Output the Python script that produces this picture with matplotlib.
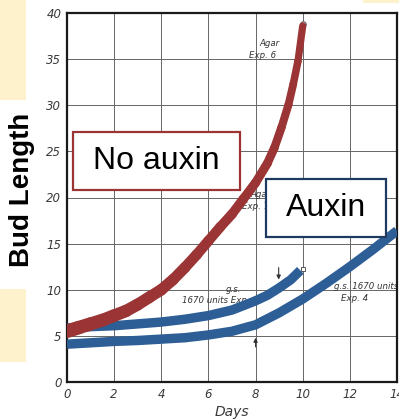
import numpy as np
import matplotlib
matplotlib.use("Agg")
import matplotlib.pyplot as plt
from matplotlib.collections import LineCollection
from matplotlib.patches import Rectangle

# Bud length (mm) against days
no_auxin_days = [0, 0.5, 1, 1.5, 2, 2.5, 3, 3.5, 4, 4.5, 5, 5.5, 6, 6.5, 7, 7.5,
                 8, 8.5, 8.8, 9.1, 9.4, 9.6, 9.8, 10.0]
no_auxin_len = [5.5, 5.9, 6.3, 6.7, 7.2, 7.7, 8.4, 9.2, 10.0, 11.1, 12.4, 13.8,
                15.3, 16.8, 18.2, 19.9, 21.6, 23.7, 25.4, 27.6, 30.1, 32.3, 34.8, 38.6]

auxin5_days = [0, 1, 2, 3, 4, 5, 6, 7, 8, 8.5, 9, 9.5, 9.9]
auxin5_len = [5.85, 6.0, 6.1, 6.3, 6.5, 6.8, 7.2, 7.8, 8.8, 9.4, 10.2, 11.1, 12.1]

auxin4_days = [0, 1, 2, 3, 4, 5, 6, 7, 8, 9, 10, 11, 12, 13, 14]
auxin4_len = [4.1, 4.25, 4.4, 4.5, 4.65, 4.8, 5.1, 5.5, 6.2, 7.5, 9.0, 10.7, 12.5, 14.4, 16.4]

x_ticks = [0, 2, 4, 6, 8, 10, 12, 14]
y_ticks = [0, 5, 10, 15, 20, 25, 30, 35, 40]

RED = "#9B3434"
BLUE = "#2E5E96"
NAVY = "#1F3A5F"
CREAM = "#FEF2CC"

W, H = 399, 420
fig = plt.figure(figsize=(W / 100, H / 100), dpi=100)

# cream background patches along the edges
for (x0, y0, w, h) in [(0, 0, 26, 100), (0, 289, 26, 73), (363, 0, 36, 3)]:
    fig.add_artist(Rectangle((x0 / W, 1 - (y0 + h) / H), w / W, h / H,
                             transform=fig.transFigure, facecolor=CREAM,
                             edgecolor="none", zorder=0))

ax = fig.add_axes([67 / W, (H - 382) / H, (397 - 67) / W, (382 - 13) / H])
ax.set_xlim(0, 14)
ax.set_ylim(0, 40)
ax.set_xticks(x_ticks)
ax.set_yticks(y_ticks)
ax.tick_params(length=0, pad=4, labelsize=8.5, labelcolor="#3a3a3a")
for lab in ax.get_xticklabels() + ax.get_yticklabels():
    lab.set_fontstyle("italic")
ax.grid(True, color="#666666", linewidth=0.7)
ax.set_axisbelow(True)
for sp in ax.spines.values():
    sp.set_color("#1a1a1a")
    sp.set_linewidth(1.6)
ax.set_xlabel("Days", fontstyle="italic", fontsize=10, color="#3a3a3a", labelpad=3)

# original handwritten annotations
note = dict(fontsize=6.2, fontstyle="italic", color="#333333", zorder=2,
            ha="center", va="center")
ax.text(8.6, 36.7, "Agar", **note)
ax.text(8.3, 35.4, "Exp. 6", **note)
ax.text(8.2, 20.3, "Agar", **note)
ax.text(8.0, 19.0, "Exp. 7", **note)
ax.text(7.06, 10.0, "g.s.", **note)
ax.text(6.5, 8.8, "1670 units Exp. 5", **note)
ax.text(12.7, 10.4, "g.s. 1670 units", **note)
ax.text(12.2, 9.1, "Exp. 4", **note)
ax.annotate("", xy=(8.98, 10.8), xytext=(8.98, 12.7),
            arrowprops=dict(arrowstyle="-|>", color="#333333", lw=0.8,
                            mutation_scale=6), zorder=2)
ax.annotate("", xy=(8.0, 5.1), xytext=(8.0, 3.5),
            arrowprops=dict(arrowstyle="-|>", color="#333333", lw=0.8,
                            mutation_scale=6), zorder=2)
ax.plot([10.0, 8.08], [38.8, 22.1], linestyle="none", marker="o", ms=4,
        mfc="white", mec="#555555", mew=0.7, zorder=2)
ax.plot([10.0], [12.3], linestyle="none", marker="s", ms=3.5,
        mfc="white", mec="#555555", mew=0.7, zorder=2)

# auxin-treated curves
ax.plot(auxin5_days, auxin5_len, color=BLUE, lw=6.8, solid_capstyle="butt",
        solid_joinstyle="round", zorder=4)
ax.plot(auxin4_days, auxin4_len, color=BLUE, lw=6.8, solid_capstyle="butt",
        solid_joinstyle="round", zorder=4)

# untreated curve, tapering toward its end
pts = np.column_stack([no_auxin_days, no_auxin_len])
segs = np.stack([pts[:-1], pts[1:]], axis=1)
widths = np.linspace(9.8, 5.2, len(segs))
lc = LineCollection(segs, colors=RED, linewidths=widths, capstyle="round",
                    joinstyle="round", zorder=5)
ax.add_collection(lc)

# labelled boxes
for (x0, y0, w, h, ec, label) in [(73, 132, 167, 58, RED, "No auxin"),
                                  (266, 179, 120, 58, NAVY, "Auxin")]:
    fig.add_artist(Rectangle((x0 / W, 1 - (y0 + h) / H), w / W, h / H,
                             transform=fig.transFigure, facecolor="white",
                             edgecolor=ec, linewidth=1.6, zorder=6))
    fig.text((x0 + w / 2) / W, 1 - (y0 + h / 2) / H, label, ha="center",
             va="center", fontsize=23, family="Liberation Sans", color="black",
             zorder=7)

fig.text(22 / W, 1 - 190 / H, "Bud Length", rotation=90, ha="center",
         va="center", fontsize=20, fontweight="bold", family="Liberation Sans",
         color="black")

fig.savefig("out.png", dpi=100)
